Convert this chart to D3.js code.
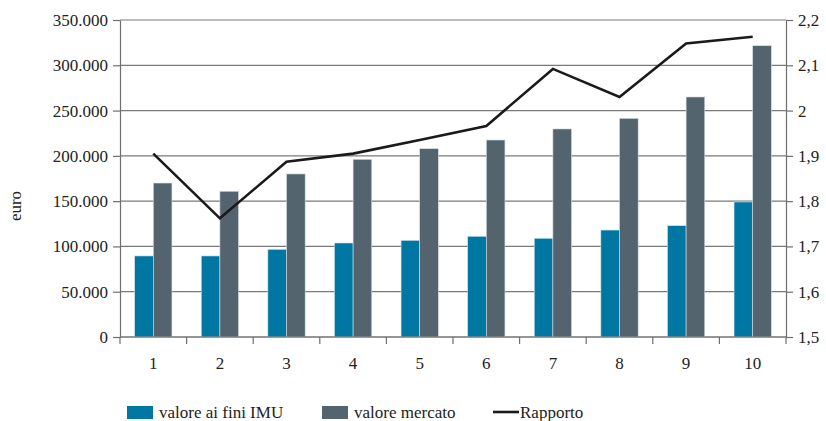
<!DOCTYPE html>
<html>
<head>
<meta charset="utf-8">
<script src="https://cdn.jsdelivr.net/npm/d3@7"></script>
<style>
body{margin:0;background:#fff;}
.grid line{stroke:#7a7a7a;stroke-width:1.2;}
.axis path,.axis line{stroke:#6e6e6e;stroke-width:1.2;}
</style>
</head>
<body>
<svg id="chart" width="826" height="421"></svg>
<script>
// dati
var categories = ['1','2','3','4','5','6','7','8','9','10'];
var valoreImu = [89500,89500,96800,103800,106700,111200,109000,118100,122900,149100];
var valoreMercato = [170000,160900,180000,196200,207900,217500,229700,241400,265000,321600];
var rapporto = [1.905,1.762,1.887,1.905,1.935,1.966,2.092,2.03,2.148,2.163];
var leftTicks = [0,50000,100000,150000,200000,250000,300000,350000];
var rightTicks = [1.5,1.6,1.7,1.8,1.9,2.0,2.1,2.2];

var colImu = '#0076a3', colMercato = '#53646e';
var FONT = "'Liberation Serif', serif";

var svg = d3.select('#chart'),
	margin = {left:120, right:40, top:20, bottom:84},
	W = 826, H = 421,
	pw = W - margin.left - margin.right,
	ph = H - margin.top - margin.bottom;

var x = d3.scaleBand().domain(categories).range([margin.left, margin.left+pw]).padding(0);
var y = d3.scaleLinear().domain([0,350000]).range([margin.top+ph, margin.top]);
var y2 = d3.scaleLinear().domain([1.5,2.2]).range([margin.top+ph, margin.top]);

var fmtL = function(d){ return d3.format(',')(d).replace(/,/g,'.'); };
var fmtR = function(d){ return (+d.toFixed(1)).toString().replace('.',','); };

// griglia
svg.append('g').attr('class','grid')
	.selectAll('line').data(leftTicks).enter().append('line')
	.attr('x1',margin.left).attr('x2',margin.left+pw)
	.attr('y1',function(d){return y(d);}).attr('y2',function(d){return y(d);});

// barre
var bw = x.bandwidth()*0.28;
var g = svg.append('g');
categories.forEach(function(c,i){
	var cx = x(c) + x.bandwidth()/2;
	g.append('rect').attr('x',cx-bw).attr('width',bw)
		.attr('y',y(valoreImu[i])).attr('height',y(0)-y(valoreImu[i]))
		.attr('fill',colImu).attr('stroke','#cfe3ec').attr('stroke-width',0.6);
	g.append('rect').attr('x',cx).attr('width',bw)
		.attr('y',y(valoreMercato[i])).attr('height',y(0)-y(valoreMercato[i]))
		.attr('fill',colMercato).attr('stroke','#d6dcdf').attr('stroke-width',0.6);
});

// assi
var axL = svg.append('g').attr('class','axis').attr('transform','translate('+margin.left+',0)')
	.call(d3.axisLeft(y).tickValues(leftTicks).tickFormat(fmtL).tickSize(7).tickSizeOuter(0).tickPadding(5));
var axR = svg.append('g').attr('class','axis').attr('transform','translate('+(margin.left+pw)+',0)')
	.call(d3.axisRight(y2).tickValues(rightTicks).tickFormat(fmtR).tickSize(7).tickSizeOuter(0).tickPadding(5));

var xb = d3.scaleLinear().domain([0,categories.length]).range([margin.left, margin.left+pw]);
var axX = svg.append('g').attr('class','axis').attr('transform','translate(0,'+(margin.top+ph)+')');
axX.append('line').attr('x1',margin.left).attr('x2',margin.left+pw);
axX.selectAll('.tk').data(d3.range(categories.length+1)).enter().append('line')
	.attr('x1',function(d){return xb(d);}).attr('x2',function(d){return xb(d);})
	.attr('y1',0).attr('y2',7);
axX.selectAll('text').data(categories).enter().append('text')
	.attr('x',function(d){return x(d)+x.bandwidth()/2;}).attr('y',32)
	.attr('text-anchor','middle').text(function(d){return d;});

// linea rapporto
var line = d3.line()
	.x(function(d,i){return x(categories[i])+x.bandwidth()/2;})
	.y(function(d){return y2(d);});
svg.append('path').datum(rapporto).attr('d',line)
	.attr('fill','none').attr('stroke','#1a1a1a').attr('stroke-width',2.6);

// etichetta asse
svg.append('text').attr('transform','translate(21,206) rotate(-90)')
	.attr('text-anchor','middle').text('euro');

// legenda
var leg = svg.append('g');
leg.append('rect').attr('x',127).attr('y',406).attr('width',26).attr('height',13).attr('fill',colImu);
leg.append('text').attr('x',159).attr('y',418).text('valore ai fini IMU');
leg.append('rect').attr('x',322).attr('y',406).attr('width',26).attr('height',13).attr('fill',colMercato);
leg.append('text').attr('x',354).attr('y',418).text('valore mercato');
leg.append('line').attr('x1',493).attr('x2',519).attr('y1',412).attr('y2',412).attr('stroke','#1a1a1a').attr('stroke-width',2.6);
leg.append('text').attr('x',520).attr('y',418).text('Rapporto');

// tutti i testi: serif
svg.selectAll('text').style('font-family',FONT).style('font-size','17px').style('fill','#222');
</script>
</body>
</html>
